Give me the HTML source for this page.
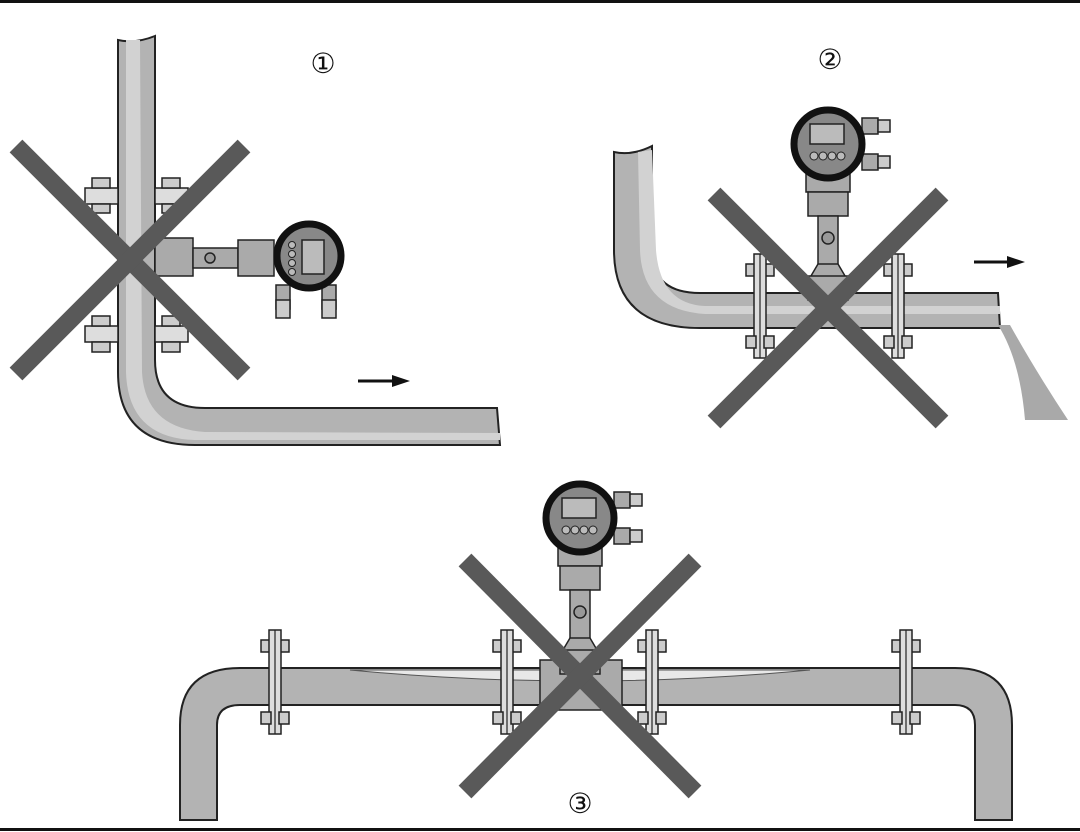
<!DOCTYPE html>
<html><head><meta charset="utf-8"><style>html,body{margin:0;padding:0;background:#fff}svg{display:block}</style></head>
<body>
<svg width="1080" height="832" viewBox="0 0 1080 832" xmlns="http://www.w3.org/2000/svg" font-family="Liberation Sans, DejaVu Sans, sans-serif">
<defs>
<g id="vfl">
<rect x="-14" y="-22" width="10" height="12" fill="#ccc" stroke="#222" stroke-width="1.5"/>
<rect x="4" y="-22" width="10" height="12" fill="#ccc" stroke="#222" stroke-width="1.5"/>
<rect x="-6" y="-32" width="12" height="104" fill="#ddd" stroke="#222" stroke-width="1.5"/>
<line x1="0" y1="-32" x2="0" y2="72" stroke="#222" stroke-width="1.2"/>
<rect x="-14" y="50" width="10" height="12" fill="#ccc" stroke="#222" stroke-width="1.5"/>
<rect x="4" y="50" width="10" height="12" fill="#ccc" stroke="#222" stroke-width="1.5"/>
</g>
<g id="tx">
<rect x="34" y="12" width="16" height="16" fill="#aaa" stroke="#222" stroke-width="1.5"/>
<rect x="50" y="14" width="12" height="12" fill="#ccc" stroke="#222" stroke-width="1.5"/>
<rect x="34" y="48" width="16" height="16" fill="#aaa" stroke="#222" stroke-width="1.5"/>
<rect x="50" y="50" width="12" height="12" fill="#ccc" stroke="#222" stroke-width="1.5"/>
<rect x="-22" y="60" width="44" height="26" fill="#aaa" stroke="#222" stroke-width="1.5"/>
<rect x="-20" y="86" width="40" height="24" fill="#aaa" stroke="#222" stroke-width="1.5"/>
<circle cx="0" cy="38" r="34" fill="#888" stroke="#111" stroke-width="7"/>
<rect x="-18" y="18" width="34" height="20" fill="#bbb" stroke="#222" stroke-width="1.5"/>
<circle cx="-14" cy="50" r="4" fill="#bbb" stroke="#222"/><circle cx="-5" cy="50" r="4" fill="#bbb" stroke="#222"/><circle cx="4" cy="50" r="4" fill="#bbb" stroke="#222"/><circle cx="13" cy="50" r="4" fill="#bbb" stroke="#222"/>
<rect x="-10" y="110" width="20" height="50" fill="#aaa" stroke="#222" stroke-width="1.5"/>
<circle cx="0" cy="132" r="6" fill="#999" stroke="#222" stroke-width="1.5"/>
<path d="M-20 175 L-10 158 L10 158 L20 175 Z" fill="#aaa" stroke="#222" stroke-width="1.5"/>
<rect x="-20" y="170" width="40" height="24" fill="#aaa" stroke="#222" stroke-width="1.5"/>
</g>
</defs>
<rect width="1080" height="832" fill="#fff"/>
<rect x="0" y="0" width="1080" height="3" fill="#111"/>
<rect x="0" y="828" width="1080" height="3" fill="#111"/>

<path d="M118 40 L118 372 Q118 445 195 445 L500 445 L497 408 L205 408 Q155 408 155 360 L155 36 Q135 44 118 40 Z" fill="#b3b3b3" stroke="#222" stroke-width="2"/>
<path d="M140 40 L142 372 Q145 428 205 432 L500 433 L500 440 L195 440 Q128 438 126 372 L126 40 Z" fill="#d2d2d2"/>
<g stroke="#222" stroke-width="1.5" fill="#ccc">
<rect x="85" y="188" width="33" height="16" fill="#ddd"/><rect x="155" y="188" width="33" height="16" fill="#ddd"/>
<rect x="92" y="178" width="18" height="10"/><rect x="162" y="178" width="18" height="10"/>
<rect x="92" y="204" width="18" height="9"/><rect x="162" y="204" width="18" height="9"/>
<rect x="85" y="326" width="33" height="16" fill="#ddd"/><rect x="155" y="326" width="33" height="16" fill="#ddd"/>
<rect x="92" y="316" width="18" height="10"/><rect x="162" y="316" width="18" height="10"/>
<rect x="92" y="342" width="18" height="10"/><rect x="162" y="342" width="18" height="10"/>
<rect x="155" y="238" width="38" height="38" fill="#aaa"/>
<rect x="193" y="248" width="45" height="20" fill="#aaa"/>
<circle cx="210" cy="258" r="5" fill="#999"/>
<rect x="238" y="240" width="36" height="36" fill="#aaa"/>
<rect x="276" y="285" width="14" height="24" fill="#aaa"/><rect x="276" y="300" width="14" height="18" fill="#ccc"/>
<rect x="322" y="285" width="14" height="24" fill="#aaa"/><rect x="322" y="300" width="14" height="18" fill="#ccc"/>
</g>
<circle cx="309" cy="256" r="32" fill="#888" stroke="#111" stroke-width="7"/>
<rect x="302" y="240" width="22" height="34" fill="#bbb" stroke="#222" stroke-width="1.5"/>
<g fill="#bbb" stroke="#222"><circle cx="292" cy="245" r="3.5"/><circle cx="292" cy="254" r="3.5"/><circle cx="292" cy="263" r="3.5"/><circle cx="292" cy="272" r="3.5"/></g>
<line x1="358" y1="381" x2="395" y2="381" stroke="#111" stroke-width="3"/>
<path d="M392 375 L410 381 L392 387 Z" fill="#111"/>
<g stroke="#595959" stroke-width="18"><line x1="16" y1="146" x2="244" y2="374"/><line x1="244" y1="146" x2="16" y2="374"/></g>
<text x="323" y="73" font-size="28" text-anchor="middle" fill="#111">①</text>

<path d="M614 152 L614 250 Q614 328 700 328 L1000 328 L998 293 L700 293 Q652 293 652 250 L652 146 Q632 156 614 152 Z" fill="#b3b3b3" stroke="#222" stroke-width="2"/>
<path d="M638 152 L640 250 Q642 310 705 314 L1000 314 L1000 306 L705 306 Q660 304 656 250 L652 150 Z" fill="#d2d2d2"/>
<path d="M998 325 Q1020 360 1025 420 L1068 420 Q1035 370 1010 325 Z" fill="#a9a9a9"/>
<use href="#vfl" transform="translate(760,286)"/>
<use href="#vfl" transform="translate(898,286)"/>
<use href="#tx" transform="translate(828,106)"/>
<line x1="974" y1="262" x2="1010" y2="262" stroke="#111" stroke-width="3"/>
<path d="M1007 256 L1025 262 L1007 268 Z" fill="#111"/>
<g stroke="#595959" stroke-width="18"><line x1="714" y1="194" x2="942" y2="422"/><line x1="942" y1="194" x2="714" y2="422"/></g>
<text x="830" y="69" font-size="28" text-anchor="middle" fill="#111">②</text>

<path d="M180 820 L180 725 Q180 668 240 668 L955 668 Q1012 668 1012 725 L1012 820 L975 820 L975 725 Q975 705 955 705 L240 705 Q217 705 217 725 L217 820 Z" fill="#b3b3b3" stroke="#222" stroke-width="2"/>
<path d="M350 670 Q580 692 810 670 Z" fill="#e8e8e8" stroke="#555" stroke-width="1"/>
<use href="#vfl" transform="translate(275,662)"/>
<use href="#vfl" transform="translate(507,662)"/>
<use href="#vfl" transform="translate(652,662)"/>
<use href="#vfl" transform="translate(906,662)"/>
<rect x="540" y="660" width="82" height="50" fill="#aaa" stroke="#222" stroke-width="1.5"/>
<use href="#tx" transform="translate(580,480)"/>
<g stroke="#595959" stroke-width="18"><line x1="465" y1="560" x2="695" y2="792"/><line x1="695" y1="560" x2="465" y2="792"/></g>
<text x="580" y="813" font-size="28" text-anchor="middle" fill="#111">③</text>
</svg>
</body></html>
